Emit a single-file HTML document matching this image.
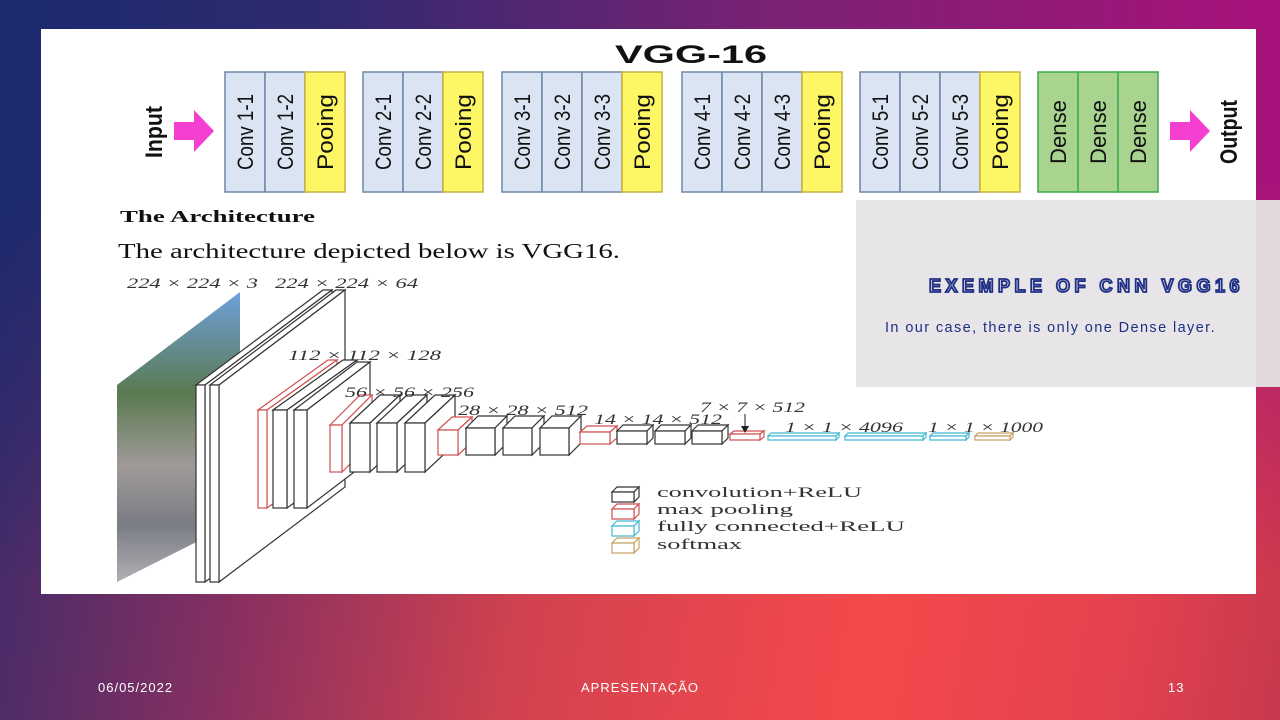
<!DOCTYPE html>
<html><head><meta charset="utf-8"><style>
html,body{margin:0;padding:0}
body{width:1280px;height:720px;position:relative;overflow:hidden;font-family:"Liberation Sans",sans-serif;
background:linear-gradient(100deg,#2c2a6c 0%,#8a3060 25%,#d2424f 45%,#f5494c 70%,#e3424f 88%,#c8384e 100%);}
#top{position:absolute;left:0;top:0;width:1280px;height:720px;
background:linear-gradient(to right,#1b2a6e 0%,#2f2a70 25%,#7a2273 60%,#a8127a 100%);
-webkit-mask-image:linear-gradient(to bottom,#000 0%,#000 25%,rgba(0,0,0,0) 80%);mask-image:linear-gradient(to bottom,#000 0%,#000 25%,rgba(0,0,0,0) 80%);}
#panel{position:absolute;left:41px;top:29px;width:1215px;height:565px;background:#fff}
svg{position:absolute;left:0;top:0}
#gray{position:absolute;left:856px;top:200px;width:400px;height:187px;background:#e7e5e7}
#gray2{position:absolute;left:1256px;top:200px;width:26px;height:187px;background:#e2d9de}
.ft{position:absolute;top:680px;color:#fff;font-size:13px;letter-spacing:1px}
</style></head><body>
<div id="top"></div>
<div id="panel"></div>
<svg id="s" width="1280" height="720" xmlns="http://www.w3.org/2000/svg">
<defs>
<linearGradient id="ph" x1="0" y1="0" x2="0" y2="1">
<stop offset="0" stop-color="#6fa0dc"/><stop offset="0.35" stop-color="#5a7a50"/><stop offset="0.6" stop-color="#a09a98"/><stop offset="0.8" stop-color="#7a7c84"/><stop offset="1" stop-color="#b0b0b4"/></linearGradient>
</defs>
<text x="615" y="63" font-size="25" font-weight="bold" fill="#111" textLength="152" lengthAdjust="spacingAndGlyphs">VGG-16</text>
<g id="strip"></g>
<text x="120" y="222" font-family="Liberation Serif" font-size="17" font-weight="bold" fill="#111" textLength="195" lengthAdjust="spacingAndGlyphs">The Architecture</text>
<text x="118" y="258" font-family="Liberation Serif" font-size="21" fill="#111" textLength="502" lengthAdjust="spacingAndGlyphs">The architecture depicted below is VGG16.</text>
<polygon points="117,385 240,292 240,520 117,582" fill="url(#ph)"/>
<g id="boxes" fill="#fff" stroke-width="1.2"></g>
<g font-family="Liberation Serif" font-size="15" fill="#333" font-style="italic" lengthAdjust="spacingAndGlyphs">
<text x="127" y="288" textLength="131" lengthAdjust="spacingAndGlyphs">224 × 224 × 3</text>
<text x="275" y="288" textLength="143" lengthAdjust="spacingAndGlyphs">224 × 224 × 64</text>
<text x="288" y="360" textLength="153" lengthAdjust="spacingAndGlyphs">112 × 112 × 128</text>
<text x="345" y="397" textLength="129" lengthAdjust="spacingAndGlyphs">56 × 56 × 256</text>
<text x="458" y="415" textLength="130" lengthAdjust="spacingAndGlyphs">28 × 28 × 512</text>
<text x="594" y="424" textLength="128" lengthAdjust="spacingAndGlyphs">14 × 14 × 512</text>
<text x="700" y="412" textLength="105" lengthAdjust="spacingAndGlyphs">7 × 7 × 512</text>
<text x="785" y="432" textLength="118" lengthAdjust="spacingAndGlyphs">1 × 1 × 4096</text>
<text x="928" y="432" textLength="115" lengthAdjust="spacingAndGlyphs">1 × 1 × 1000</text>
</g>
<line x1="745" y1="414" x2="745" y2="431" stroke="#222"/><polygon points="741,426 749,426 745,433" fill="#222"/>
<g font-family="Liberation Serif" font-size="15" fill="#333">
<text x="657" y="497" textLength="205" lengthAdjust="spacingAndGlyphs">convolution+ReLU</text>
<text x="657" y="514" textLength="136" lengthAdjust="spacingAndGlyphs">max pooling</text>
<text x="657" y="531" textLength="248" lengthAdjust="spacingAndGlyphs">fully connected+ReLU</text>
<text x="657" y="549" textLength="85" lengthAdjust="spacingAndGlyphs">softmax</text>
</g>
</svg>
<div id="gray"></div><div id="gray2"></div>
<div style="position:absolute;left:929px;top:276px;font-size:18px;font-weight:bold;letter-spacing:4.5px;color:#e7e5e7;-webkit-text-stroke:1.8px #1f2f85;white-space:nowrap">EXEMPLE OF CNN VGG16</div>
<div style="position:absolute;left:885px;top:320px;font-size:14.5px;letter-spacing:1.4px;color:#1f2f85;white-space:nowrap">In our case, there is only one Dense layer.</div>
<div class="ft" style="left:98px">06/05/2022</div>
<div class="ft" style="left:581px">APRESENTAÇÃO</div>
<div class="ft" style="left:1168px">13</div>
<script>
var NS="http://www.w3.org/2000/svg";
function el(p,t,a,txt){var e=document.createElementNS(NS,t);for(var k in a)e.setAttribute(k,a[k]);if(txt)e.textContent=txt;p.appendChild(e);return e;}
var strip=document.getElementById('strip');
function col(x,fill,stroke,label){el(strip,'rect',{x:x,y:72,width:40,height:120,fill:fill,stroke:stroke,'stroke-width':1.5});
el(strip,'text',{x:0,y:0,transform:'translate('+(x+28)+',132) rotate(-90)','text-anchor':'middle','font-size':22,fill:'#111','font-family':'Liberation Sans',textLength:label.length>5?76:64,lengthAdjust:'spacingAndGlyphs'},label);}
var groups=[[225,['Conv 1-1','Conv 1-2']],[363,['Conv 2-1','Conv 2-2']],[502,['Conv 3-1','Conv 3-2','Conv 3-3']],[682,['Conv 4-1','Conv 4-2','Conv 4-3']],[860,['Conv 5-1','Conv 5-2','Conv 5-3']]];
groups.forEach(function(g){var x=g[0];g[1].forEach(function(l){col(x,'#dbe4f2','#6d87a8',l);x+=40;});col(x,'#fdf765','#c9b040','Pooing');});
for(var i=0;i<3;i++)col(1038+40*i,'#a8d490','#3fa84f','Dense');
el(strip,'text',{transform:'translate(162,132) rotate(-90)','text-anchor':'middle','font-size':24,'font-weight':'bold',fill:'#111',textLength:52,lengthAdjust:'spacingAndGlyphs'},'Input');
el(strip,'text',{transform:'translate(1237,132) rotate(-90)','text-anchor':'middle','font-size':24,'font-weight':'bold',fill:'#111',textLength:64,lengthAdjust:'spacingAndGlyphs'},'Output');
function arrow(x){el(strip,'polygon',{points:(x)+',122 '+(x+20)+',122 '+(x+20)+',110 '+(x+40)+',131 '+(x+20)+',152 '+(x+20)+',140 '+x+',140',fill:'#f43fd0'});}
arrow(174);arrow(1170);
var B=document.getElementById('boxes');
function box(x,y,w,h,dx,dy,c){var a={fill:'#fff',stroke:c,'stroke-width':1.2};
a.points=x+','+y+' '+(x+dx)+','+(y-dy)+' '+(x+w+dx)+','+(y-dy)+' '+(x+w)+','+y;el(B,'polygon',a);
a.points=(x+w)+','+y+' '+(x+w+dx)+','+(y-dy)+' '+(x+w+dx)+','+(y+h-dy)+' '+(x+w)+','+(y+h);el(B,'polygon',a);
el(B,'rect',{x:x,y:y,width:w,height:h,fill:'#fff',stroke:c,'stroke-width':1.2});}
var K='#333',R='#d05050',C='#40b8d0',T='#c8a060';
box(196,385,9,197,127,95,K);box(210,385,9,197,126,95,K);
box(258,410,9,98,70,50,R);box(273,410,14,98,70,50,K);box(294,410,13,98,63,48,K);
box(330,425,12,47,30,30,R);[350,377,405].forEach(function(x){box(x,423,20,49,30,28,K);});
box(438,430,20,25,14,13,R);[466,503,540].forEach(function(x){box(x,428,29,27,12,12,K);});
box(580,432,30,12,7,6,R);[617,655,692].forEach(function(x){box(x,431,30,13,6,6,K);});
box(730,434,30,6,4,3,R);
box(768,436,68,4,3,3,C);box(845,436,78,4,3,3,C);box(930,436,36,4,3,3,C);box(975,436,35,4,3,3,T);
box(612,492,22,10,5,5,K);box(612,509,22,10,5,5,R);box(612,526,22,10,5,5,C);box(612,543,22,10,5,5,T);
</script>
</body></html>
